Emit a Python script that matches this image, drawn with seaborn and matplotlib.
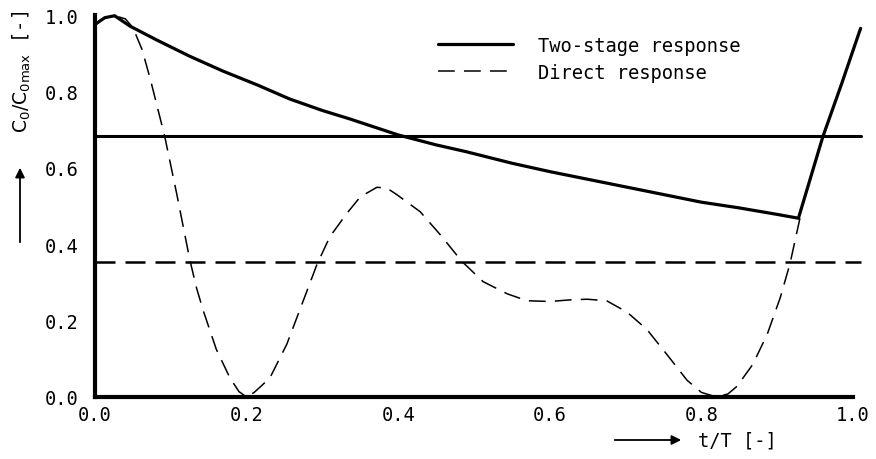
import matplotlib
matplotlib.use("Agg")
import matplotlib.pyplot as plt
import seaborn as sns
import pandas as pd

# ---- data ----
t_two = [0.0, 0.007, 0.013, 0.026, 0.046, 0.082, 0.125, 0.169, 0.214, 0.257,
         0.3, 0.336, 0.4, 0.45, 0.49, 0.55, 0.6, 0.65, 0.7, 0.75, 0.8, 0.85,
         0.9, 0.928, 0.96, 0.985, 1.01]
v_two = [0.975, 0.985, 0.993, 0.998, 0.971, 0.934, 0.892, 0.853, 0.817, 0.78,
         0.75, 0.728, 0.686, 0.66, 0.642, 0.612, 0.59, 0.57, 0.55, 0.53, 0.51,
         0.495, 0.478, 0.468, 0.68, 0.82, 0.965]

t_dir = [0.0, 0.013, 0.026, 0.04, 0.05, 0.062, 0.073, 0.092, 0.108, 0.117,
         0.125, 0.134, 0.143, 0.16, 0.178, 0.19, 0.2, 0.21, 0.22, 0.231, 0.253,
         0.27, 0.293, 0.31, 0.332, 0.35, 0.372, 0.385, 0.398, 0.429, 0.455,
         0.484, 0.512, 0.544, 0.57, 0.6, 0.625, 0.649, 0.675, 0.702, 0.728,
         0.755, 0.781, 0.8, 0.82, 0.835, 0.847, 0.868, 0.887, 0.904, 0.917,
         0.93]
v_dir = [0.975, 0.993, 0.998, 0.99, 0.967, 0.91, 0.832, 0.682, 0.53, 0.44,
         0.36, 0.285, 0.225, 0.125, 0.05, 0.014, 0.0, 0.012, 0.03, 0.051, 0.138,
         0.227, 0.348, 0.42, 0.48, 0.524, 0.549, 0.547, 0.53, 0.485, 0.426,
         0.355, 0.302, 0.27, 0.252, 0.25, 0.254, 0.256, 0.252, 0.222, 0.177,
         0.11, 0.044, 0.012, 0.0, 0.008, 0.028, 0.086, 0.165, 0.26, 0.35,
         0.468]

mean_two = 0.682
mean_dir = 0.354
mean_span = [0.0, 1.01]

x_ticks = [0.0, 0.2, 0.4, 0.6, 0.8, 1.0]
y_ticks = [0.0, 0.2, 0.4, 0.6, 0.8, 1.0]
labels = ["Two-stage response", "Direct response"]

# ---- plotting ----
sns.set_theme(style="white")
plt.rcParams['font.family'] = ['DejaVu Sans Mono', 'DejaVu Sans']
plt.rcParams['mathtext.fontset'] = 'dejavusans'

fig = plt.figure(figsize=(8.76, 4.6), dpi=100)
ax = fig.add_axes([95/876, 1 - 398/460, 758/876, 382/460])

df_two = pd.DataFrame({"t": t_two, "v": v_two})
df_dir = pd.DataFrame({"t": t_dir, "v": v_dir})

sns.lineplot(data=df_two, x="t", y="v", ax=ax, color="black", lw=2.3,
             label=labels[0], clip_on=False, sort=False)
sns.lineplot(data=df_dir, x="t", y="v", ax=ax, color="black", lw=1.1,
             label=labels[1], clip_on=False, sort=False,
             linestyle=(0, (11, 6)))

df_m1 = pd.DataFrame({"t": mean_span, "v": [mean_two, mean_two]})
df_m2 = pd.DataFrame({"t": mean_span, "v": [mean_dir, mean_dir]})
sns.lineplot(data=df_m1, x="t", y="v", ax=ax, color="black", lw=2.2,
             legend=False, clip_on=False)
sns.lineplot(data=df_m2, x="t", y="v", ax=ax, color="black", lw=1.8,
             legend=False, clip_on=False, linestyle=(0, (8, 4)))

ax.set_xlim(0, 1.0)
ax.set_ylim(0, 1.0)
ax.set_xticks(x_ticks)
ax.set_yticks(y_ticks)
ax.set_xticklabels([f"{v:.1f}" for v in x_ticks], fontsize=13.5)
ax.set_yticklabels([f"{v:.1f}" for v in y_ticks], fontsize=13.5)
ax.tick_params(axis="y", direction="out", length=3, width=1, color="black",
               pad=9, labelcolor="black")
ax.tick_params(axis="x", length=0, pad=6, labelcolor="black")

for s in ["top", "right"]:
    ax.spines[s].set_visible(False)
for s in ["left", "bottom"]:
    ax.spines[s].set_linewidth(3)
    ax.spines[s].set_color("black")

ax.set_xlabel("")
ax.set_ylabel("")

leg = ax.legend(loc="upper left", bbox_to_anchor=(0.452, 0.945), frameon=False,
                fontsize=13.5, handlelength=4.0, handletextpad=1.35,
                labelspacing=0.4, borderpad=0, borderaxespad=0)
for txt in leg.get_texts():
    txt.set_color("black")

# axis labels with arrows
fig.text(22/876, 1 - 72/460, r"$\mathrm{C_0/C_{0max}}$ [-]", rotation=90,
         ha="center", va="center", fontsize=13.5, color="black")
fig.text(737/876, 1 - 441/460, "t/T [-]", ha="center", va="center",
         fontsize=13.5, color="black")
ax.annotate("", xy=(20/876, 1 - 166/460), xytext=(20/876, 1 - 246/460),
            xycoords="figure fraction", textcoords="figure fraction",
            arrowprops=dict(arrowstyle="-|>", color="black", lw=1.3,
                            mutation_scale=14))
ax.annotate("", xy=(684/876, 1 - 441/460), xytext=(612/876, 1 - 441/460),
            xycoords="figure fraction", textcoords="figure fraction",
            arrowprops=dict(arrowstyle="-|>", color="black", lw=1.3,
                            mutation_scale=14))

fig.savefig("out.png", dpi=100)
